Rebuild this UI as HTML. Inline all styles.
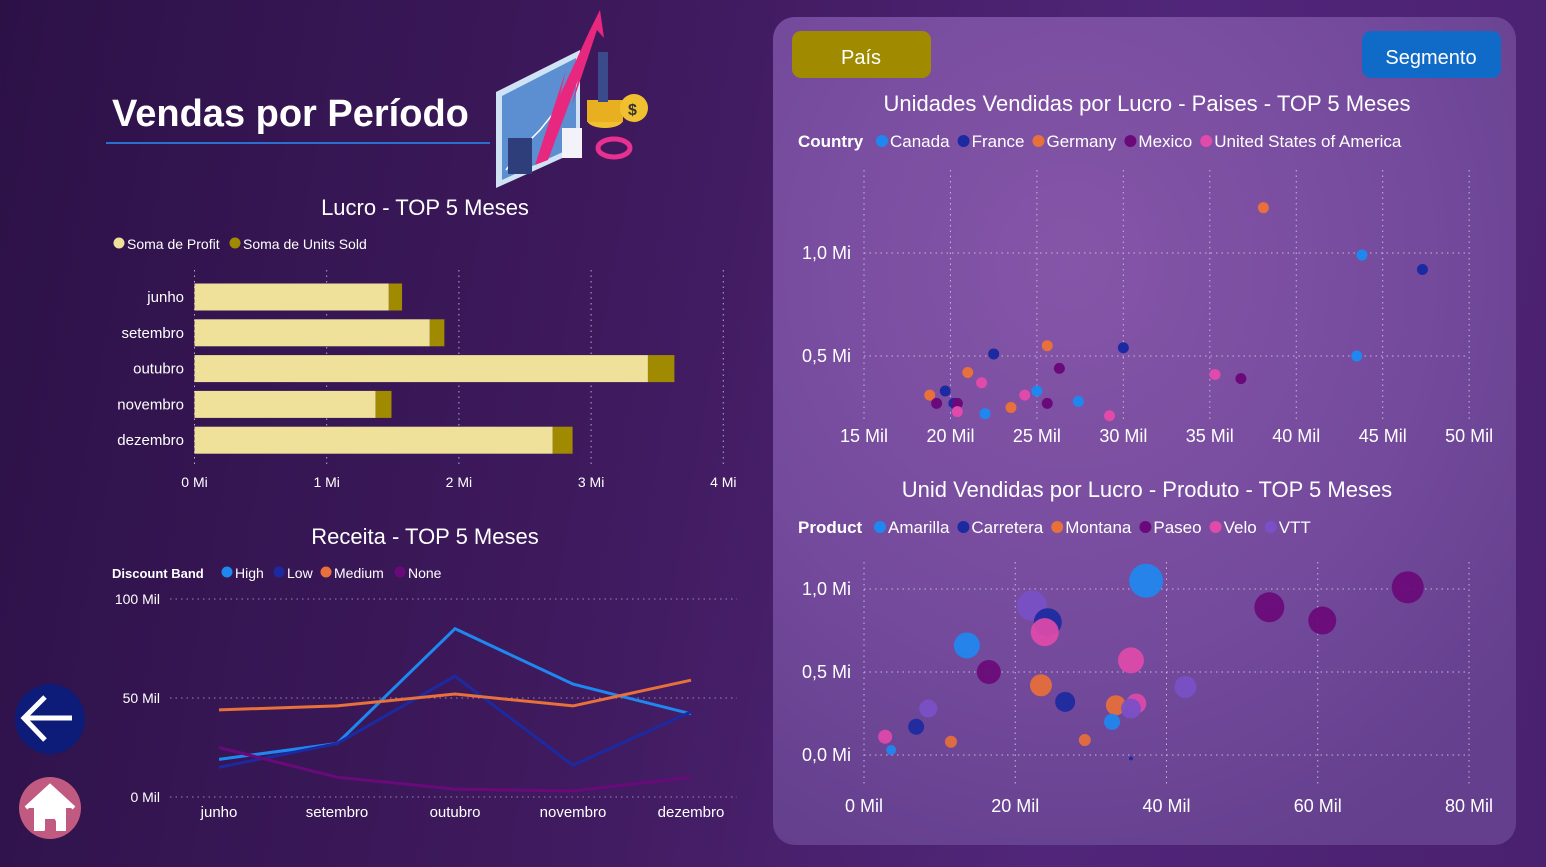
<!DOCTYPE html>
<html><head><meta charset="utf-8"><style>
html,body{margin:0;padding:0;width:1546px;height:867px;overflow:hidden;font-family:"Liberation Sans",sans-serif;}
body{background:linear-gradient(100deg,#2c1147 0%,#3f1a5e 40%,#51267a 70%,#4a2070 100%);}
svg text{font-family:"Liberation Sans",sans-serif;}
</style></head><body>
<svg id="root" width="1546" height="867" viewBox="0 0 1546 867" xmlns="http://www.w3.org/2000/svg">
<defs>
<radialGradient id="pg" cx="0.4" cy="0.3" r="0.8">
<stop offset="0" stop-color="#8555a8"/><stop offset="0.6" stop-color="#744a9c"/><stop offset="1" stop-color="#633f8d"/>
</radialGradient>
</defs>
<rect x="773" y="17" width="743" height="828" rx="22" fill="url(#pg)"/>
<text x="112" y="126" font-size="38" font-weight="bold" fill="#fff">Vendas por Período</text>
<rect x="106" y="142" width="384" height="2" fill="#2a6fd0"/>
<g>
<polygon points="496,92 580,50 580,150 496,188" fill="#cfe3f5"/>
<polygon points="502,96 576,58 576,146 502,180" fill="#5b8fd2"/>
<polyline points="506,170 525,145 540,130 556,110 570,95" fill="none" stroke="#fff" stroke-width="1.5"/>
<rect x="508" y="138" width="24" height="36" fill="#2d3e7a"/>
<polygon points="535,165 566,70 560,95 590,30 600,10 604,38 597,30 572,105 578,80 548,160" fill="#e8287e"/>
<ellipse cx="605" cy="120" rx="18" ry="8" fill="#f0c030"/><rect x="587" y="100" width="36" height="22" fill="#e8b020"/>
<circle cx="634" cy="108" r="14" fill="#f0c030"/><text x="628" y="115" font-size="16" font-weight="bold" fill="#333">$</text>
<ellipse cx="614" cy="148" rx="16" ry="9" fill="none" stroke="#e83090" stroke-width="5"/>
<rect x="598" y="52" width="10" height="50" fill="#3a4a8a"/>
<rect x="562" y="128" width="20" height="30" fill="#f2f2f8"/>
</g>
<g id="buttons">
<rect x="792" y="31" width="139" height="47" rx="9" fill="#a08a00"/>
<text x="861" y="64" font-size="20" fill="#fff" text-anchor="middle">País</text>
<rect x="1362" y="31" width="139" height="47" rx="9" fill="#106bc8"/>
<text x="1431" y="64" font-size="20" fill="#fff" text-anchor="middle">Segmento</text>
</g>
<g>
<circle cx="50" cy="719" r="35" fill="#0c1c78"/>
<path d="M72,718 H25 M45,697 L24,718 L45,740" stroke="#fff" stroke-width="5" fill="none"/>
</g>
<g>
<circle cx="50" cy="808" r="31" fill="#c05a80"/>
<polygon points="28,808 50,787 72,808 66,808 66,831 56,831 56,820 44,831 44,831 34,831 34,808" fill="#fff"/>
<rect x="45" y="819" width="10" height="12" fill="#c05a80"/>
<path d="M26,808 L50,786 L74,808" stroke="#fff" stroke-width="4" fill="none"/>
</g>
<g id="barChart"></g>
<g id="lineChart"></g>
<g id="scatter1"></g>
<g id="scatter2"></g>
</svg>
<script>
// ---- Bar chart data ----
const barMonths = ["junho","setembro","outubro","novembro","dezembro"];
const barProfit = [1.47,1.78,3.43,1.37,2.71];
const barUnits = [0.10,0.11,0.20,0.12,0.15];
const barTicks = [0,1,2,3,4];
// ---- Line chart data ----
const lineMonths = ["junho","setembro","outubro","novembro","dezembro"];
const lineHigh = [19,27,85,57,42];
const lineLow = [15,27,61,16,43];
const lineMedium = [44,46,52,46,59];
const lineNone = [25,10,4,3,10];
const lineTicks = [0,50,100];
// ---- Scatter 1 (countries) ----
const s1Country = ["Germany","Canada","France","Canada","France","Germany","France","Mexico","United States of America","Mexico","Germany","United States of America","France","Germany","Mexico","France","Mexico","United States of America","Canada","Germany","United States of America","Canada","Mexico","Canada","United States of America"];
const s1UnitsK = [38.1,43.8,47.3,43.5,30.0,25.6,22.5,26.3,35.3,36.8,21.0,21.8,19.7,18.8,19.2,20.2,20.4,20.4,22.0,23.5,24.3,25.0,25.6,27.4,29.2];
const s1ProfitM = [1.22,0.99,0.92,0.50,0.54,0.55,0.51,0.44,0.41,0.39,0.42,0.37,0.33,0.31,0.27,0.27,0.27,0.23,0.22,0.25,0.31,0.33,0.27,0.28,0.21];
const s1XTicks = [15,20,25,30,35,40,45,50];
const s1YTicks = [0.5,1.0];
// ---- Scatter 2 (products) ----
const s2Product = ["Amarilla","Paseo","Paseo","Paseo","VTT","Carretera","Velo","Amarilla","Velo","Paseo","VTT","Montana","Carretera","Montana","Velo","VTT","Amarilla","VTT","Carretera","Velo","Montana","Amarilla","Montana","Carretera"];
const s2UnitsK = [37.3,71.9,53.6,60.6,22.2,24.3,23.9,13.6,35.3,16.5,42.5,23.4,26.6,33.3,36.0,35.3,32.8,8.5,6.9,2.8,11.5,3.6,29.2,35.3];
const s2ProfitM = [1.05,1.01,0.89,0.81,0.90,0.80,0.74,0.66,0.57,0.50,0.41,0.42,0.32,0.30,0.31,0.28,0.20,0.28,0.17,0.11,0.08,0.03,0.09,-0.02];
const s2Size = [17,16,15,14,15,14,14,13,13,12,11,11,10,10,10,10,8,9,8,7,6,5,6,2];
const s2XTicks = [0,20,40,60,80];
const s2YTicks = [0,0.5,1.0];

const NS="http://www.w3.org/2000/svg";
function mk(parent,tag,attrs,txt){const e=document.createElementNS(NS,tag);for(const k in attrs)e.setAttribute(k,attrs[k]);if(txt!==undefined)e.textContent=txt;parent.appendChild(e);return e;}
const dot="1.5 4";

// Bar chart
(function(){
 const g=document.getElementById('barChart');
 const x=v=>194.5+v*132.2;
 const y0=297, step=35.8, bh=27;
 let t=mk(g,'text',{x:425,y:215,'font-size':22,fill:'#fff','text-anchor':'middle'},'Lucro - TOP 5 Meses');
 
 
 let c=mk(g,'circle',{cx:119,cy:243,r:5.5,fill:'#efe09a'});
 
 
 t=mk(g,'text',{x:127,y:249,'font-size':14,fill:'#fff'},'Soma de Profit');
 
 
 c=mk(g,'circle',{cx:235,cy:243,r:5.5,fill:'#a08a00'});
 
 
 t=mk(g,'text',{x:243,y:249,'font-size':14,fill:'#fff'},'Soma de Units Sold');
 
 
 barTicks.forEach(v=>{
  const l=mk(g,'line',{x1:x(v),x2:x(v),y1:270,y2:465,stroke:'#b9a6d0','stroke-dasharray':dot,'stroke-width':1});
  
  
  const tt=mk(g,'text',{x:x(v),y:487,'font-size':14,fill:'#fff','text-anchor':'middle'},v+' Mi');
  
  
 });
 barMonths.forEach((m,i)=>{
  const cy=y0+i*step;
  const lb=mk(g,'text',{x:184,y:cy+5,'font-size':15,fill:'#fff','text-anchor':'end'},m);
  
  
  const r1=mk(g,'rect',{x:x(0),y:cy-bh/2,width:x(barProfit[i])-x(0),height:bh,fill:'#efe09a'});
  
  
  const r2=mk(g,'rect',{x:x(barProfit[i]),y:cy-bh/2,width:x(barProfit[i]+barUnits[i])-x(barProfit[i]),height:bh,fill:'#a08a00'});
  
  
 });
})();

// Line chart
(function(){
 const g=document.getElementById('lineChart');
 const x=i=>219+i*118, y=v=>797-v*1.98;
 let t=mk(g,'text',{x:425,y:544,'font-size':22,fill:'#fff','text-anchor':'middle'},'Receita - TOP 5 Meses');
 
 
 t=mk(g,'text',{x:112,y:578,'font-size':13,'font-weight':'bold',fill:'#fff'},'Discount Band');
 
 
 const series=[["High",lineHigh,'#1e88f0',235],["Low",lineLow,'#1b2aa0',287],["Medium",lineMedium,'#e8703a',334],["None",lineNone,'#6a0a7a',408]];
 series.forEach(s=>{
  const c=mk(g,'circle',{cx:s[3]-8,cy:572,r:5.5,fill:s[2]});
  
  
  const tt=mk(g,'text',{x:s[3],y:578,'font-size':14,fill:'#fff'},s[0]);
  
  
 });
 lineTicks.forEach(v=>{
  const l=mk(g,'line',{x1:170,x2:737,y1:y(v),y2:y(v),stroke:'#9a86b6','stroke-dasharray':dot});
  
  
  const tt=mk(g,'text',{x:160,y:y(v)+5,'font-size':14,fill:'#fff','text-anchor':'end'},v+' Mil');
  
  
 });
 lineMonths.forEach((m,i)=>{
  const tt=mk(g,'text',{x:x(i),y:817,'font-size':15,fill:'#fff','text-anchor':'middle'},m);
  
  
 });
 series.forEach(s=>{
  const p=mk(g,'polyline',{points:s[1].map((v,i)=>x(i)+','+y(v)).join(' '),fill:'none',stroke:s[2],'stroke-width':3});
  
  
 });
})();

const colors={"Canada":'#1e88f0',"France":'#1b2aa0',"Germany":'#e8703a',"Mexico":'#6a0a7a',"United States of America":'#e04aaa',
 "Amarilla":'#1e88f0',"Carretera":'#1b2aa0',"Montana":'#e8703a',"Paseo":'#6a0a7a',"Velo":'#e04aaa',"VTT":'#7a50c8'};

function legend(g,y,title,items,x0){
 let t=mk(g,'text',{x:798,y:y,'font-size':17,'font-weight':'bold',fill:'#fff'},title);
 
 
 let xx=x0;
 items.forEach(n=>{
  const c=mk(g,'circle',{cx:xx,cy:y-6,r:6,fill:colors[n]});
  
  
  const tt=mk(g,'text',{x:xx+8,y:y,'font-size':17,fill:'#fff'},n);
  
  
  xx+=8+tt.getComputedTextLength()+14;
 });
}

// Scatter 1
(function(){
 const g=document.getElementById('scatter1');
 const x=v=>864+(v-15)*17.29, y=v=>459-v*206;
 let t=mk(g,'text',{x:1147,y:111,'font-size':22,fill:'#fff','text-anchor':'middle'},'Unidades Vendidas por Lucro - Paises - TOP 5 Meses');
 
 
 legend(g,147,'Country',["Canada","France","Germany","Mexico","United States of America"],882);
 s1XTicks.forEach(v=>{
  const l=mk(g,'line',{x1:x(v),x2:x(v),y1:170,y2:420,stroke:'#c8b6dc','stroke-dasharray':dot});
  
  
  const tt=mk(g,'text',{x:x(v),y:442,'font-size':18,fill:'#fff','text-anchor':'middle'},v+' Mil');
  
  
 });
 s1YTicks.forEach(v=>{
  const l=mk(g,'line',{x1:864,x2:1469,y1:y(v),y2:y(v),stroke:'#c8b6dc','stroke-dasharray':dot});
  
  
  const tt=mk(g,'text',{x:851,y:y(v)+6,'font-size':18,fill:'#fff','text-anchor':'end'},v.toFixed(1).replace('.',',')+' Mi');
  
  
 });
 s1UnitsK.forEach((v,i)=>{
  const c=mk(g,'circle',{cx:x(v),cy:y(s1ProfitM[i]),r:5.5,fill:colors[s1Country[i]]});
  
  
 });
})();

// Scatter 2
(function(){
 const g=document.getElementById('scatter2');
 const x=v=>864+v*7.5625, y=v=>755-v*166;
 let t=mk(g,'text',{x:1147,y:497,'font-size':22,fill:'#fff','text-anchor':'middle'},'Unid Vendidas por Lucro - Produto - TOP 5 Meses');
 
 
 legend(g,533,'Product',["Amarilla","Carretera","Montana","Paseo","Velo","VTT"],880);
 s2XTicks.forEach(v=>{
  const l=mk(g,'line',{x1:x(v),x2:x(v),y1:562,y2:785,stroke:'#c8b6dc','stroke-dasharray':dot});
  
  
  const tt=mk(g,'text',{x:x(v),y:812,'font-size':18,fill:'#fff','text-anchor':'middle'},v+' Mil');
  
  
 });
 s2YTicks.forEach(v=>{
  const l=mk(g,'line',{x1:864,x2:1469,y1:y(v),y2:y(v),stroke:'#c8b6dc','stroke-dasharray':dot});
  
  
  const tt=mk(g,'text',{x:851,y:y(v)+6,'font-size':18,fill:'#fff','text-anchor':'end'},v.toFixed(1).replace('.',',')+' Mi');
  
  
 });
 s2UnitsK.forEach((v,i)=>{
  const c=mk(g,'circle',{cx:x(v),cy:y(s2ProfitM[i]),r:s2Size[i],fill:colors[s2Product[i]],'fill-opacity':0.92});
  
  
 });
})();
</script>
</body></html>
